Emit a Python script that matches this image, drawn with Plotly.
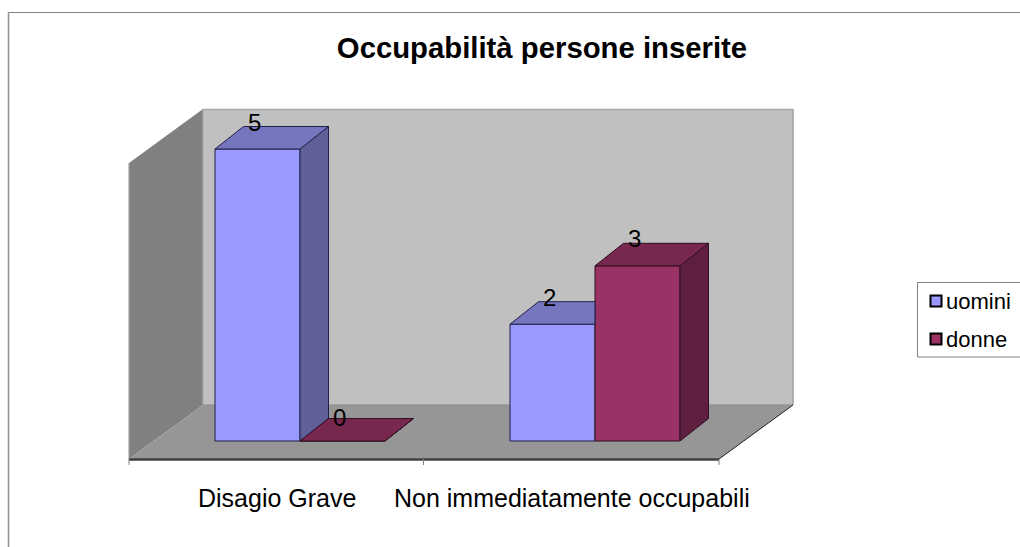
import plotly.graph_objects as go

# ---- data ----
categories = ["Disagio Grave", "Non immediatamente occupabili"]
series_names = ["uomini", "donne"]
uomini = [5, 2]
donne = [0, 3]
title_text = "Occupabilità persone inserite"

# ---- styles ----
FONT = "Liberation Sans"
FRONT = ["#9999FF", "#993366"]
TOP = ["#7676BE", "#78274F"]
SIDE = ["#606099", "#5F1F40"]
EDGE = ["#20204A", "#2E1020"]

# ---- geometry: one axis unit = one category (x) / one person (y) ----
W, H = 1020, 547
X0, UX = 129.0, 295.0     # pixel of x=0, pixels per category
Y0, UY = 441.0, 58.4      # pixel of y=0, pixels per unit


def dx(p):
    return (p - X0) / UX


def dy(p):
    return (Y0 - p) / UY


BAR_W = 85 / UX
CENTER = 171 / UX
DEPTH_X = 28.5 / UX
DEPTH_Y = 22.5 / UY


def path(points):
    return "M " + " L ".join(f"{dx(a):.5f},{dy(b):.5f}" for a, b in points) + " Z"


def poly(points, fill, line="rgba(0,0,0,0)", width=0):
    return dict(type="path", xref="x", yref="y", layer="below", path=path(points),
                fillcolor=fill, line=dict(color=line, width=width))


def seg(a, b, c, d, color, width):
    return dict(type="line", xref="x", yref="y", layer="below",
                x0=dx(a), y0=dy(b), x1=dx(c), y1=dy(d), line=dict(color=color, width=width))


fig = go.Figure()

shapes = [
    # outer frame (runs off the right and bottom of the image)
    seg(8.5, 12.5, 1021, 12.5, "#808080", 1.2),
    seg(8.5, 12.5, 8.5, 548, "#909090", 1.5),
    # chart walls and floor
    poly([(203, 109), (793, 109), (793, 405), (203, 405)], "#C0C0C0"),
    poly([(129, 163), (203, 109), (203, 405), (129, 459)], "#808080"),
    poly([(129, 459), (203, 405), (793, 405), (719, 459)], "#969696"),
    seg(203, 109.5, 793, 109.5, "#A8A8A8", 1.5),
    seg(793, 109, 793, 405, "#A0A0A0", 1.5),
    seg(129, 163, 129, 459, "#A0A0A0", 1.2),
    seg(203, 109, 203, 405, "#A8A8A8", 1.2),
    seg(203, 405, 793, 405, "#8A8A8A", 1),
    seg(129, 459.5, 719, 459.5, "#404040", 2.5),
    seg(719, 459, 793, 405, "#202020", 1),
    seg(129, 459, 129, 465, "#808080", 1),
    seg(423.5, 459, 423.5, 465, "#808080", 1),
    seg(719, 459, 719, 465, "#808080", 1),
    # legend box (runs off the right of the image)
    dict(type="path", xref="x", yref="y", layer="below",
         path=f"M {dx(1025):.5f},{dy(282.5):.5f} L {dx(917.5):.5f},{dy(282.5):.5f} "
              f"L {dx(917.5):.5f},{dy(357):.5f} L {dx(1025):.5f},{dy(357):.5f}",
         fillcolor="#FFFFFF", line=dict(color="#808080", width=1)),
]
fig.update_layout(shapes=shapes)

# Front faces
series = [uomini, donne]
for s, (name, values) in enumerate(zip(series_names, series)):
    xs = [i + CENTER + (s - 0.5) * BAR_W for i in range(len(categories))]
    fig.add_bar(x=xs, y=values, width=BAR_W, name=name, showlegend=False,
                marker=dict(color=FRONT[s], line=dict(color=EDGE[s], width=1)))

# Side and top faces, derived from the values
for i in range(len(categories)):
    for s, values in enumerate(series):
        v = values[i]
        left = i + CENTER + (s - 1) * BAR_W
        right = left + BAR_W
        neighbour = series[s + 1][i] if s + 1 < len(series) else -1
        hidden = neighbour >= v
        if not hidden:
            fig.add_scatter(x=[right, right + DEPTH_X, right + DEPTH_X, right, right],
                            y=[0, DEPTH_Y, v + DEPTH_Y, v, 0],
                            mode="lines", fill="toself", fillcolor=SIDE[s],
                            line=dict(color=EDGE[s], width=1), hoverinfo="skip", showlegend=False)
            top_x = [left, right, right + DEPTH_X, left + DEPTH_X, left]
            top_y = [v, v, v + DEPTH_Y, v + DEPTH_Y, v]
        else:
            top_x = [left, right, right, left + DEPTH_X, left]
            top_y = [v, v, v + DEPTH_Y, v + DEPTH_Y, v]
        fig.add_scatter(x=top_x, y=top_y, mode="lines", fill="toself", fillcolor=TOP[s],
                        line=dict(color=EDGE[s], width=1), hoverinfo="skip", showlegend=False)

# Value labels
for i in range(len(categories)):
    for s, values in enumerate(series):
        v = values[i]
        x = i + CENTER + (s - 0.5) * BAR_W
        fig.add_annotation(x=x, y=v, xshift=-3, yshift=27 if v else 24, text=str(v), showarrow=False,
                           font=dict(family=FONT, size=24, color="#000000"))

# Category labels
for i, c in enumerate(categories):
    fig.add_annotation(x=i + 0.5, y=dy(498), text=c, showarrow=False,
                       font=dict(family=FONT, size=25, color="#000000"))

# Legend
for s, name in enumerate(series_names):
    ly = dy(301 + 38 * s)
    fig.add_scatter(x=[dx(936)], y=[ly], mode="markers", hoverinfo="skip", showlegend=False,
                    marker=dict(symbol="square", size=11, color=FRONT[s],
                                line=dict(color="#000000", width=2)))
    fig.add_annotation(x=dx(944), y=ly, text=name, showarrow=False, xanchor="left",
                       font=dict(family=FONT, size=22, color="#000000"))

fig.update_layout(
    width=W, height=H, margin=dict(l=0, r=0, t=0, b=0),
    paper_bgcolor="#FFFFFF", plot_bgcolor="#FFFFFF",
    barmode="overlay", showlegend=False,
    title=dict(text=f"<b>{title_text}</b>", x=542 / W, xanchor="center",
               y=1 - 48 / H, yanchor="middle",
               font=dict(family=FONT, size=29.3, color="#000000")),
    xaxis=dict(visible=False, range=[dx(0), dx(W)], fixedrange=True),
    yaxis=dict(visible=False, range=[dy(H), dy(0)], fixedrange=True),
)

fig.write_html("out.html", include_plotlyjs=True, config={"displayModeBar": False},
               post_script="document.body.style.margin='0';document.body.style.overflow='hidden';")
